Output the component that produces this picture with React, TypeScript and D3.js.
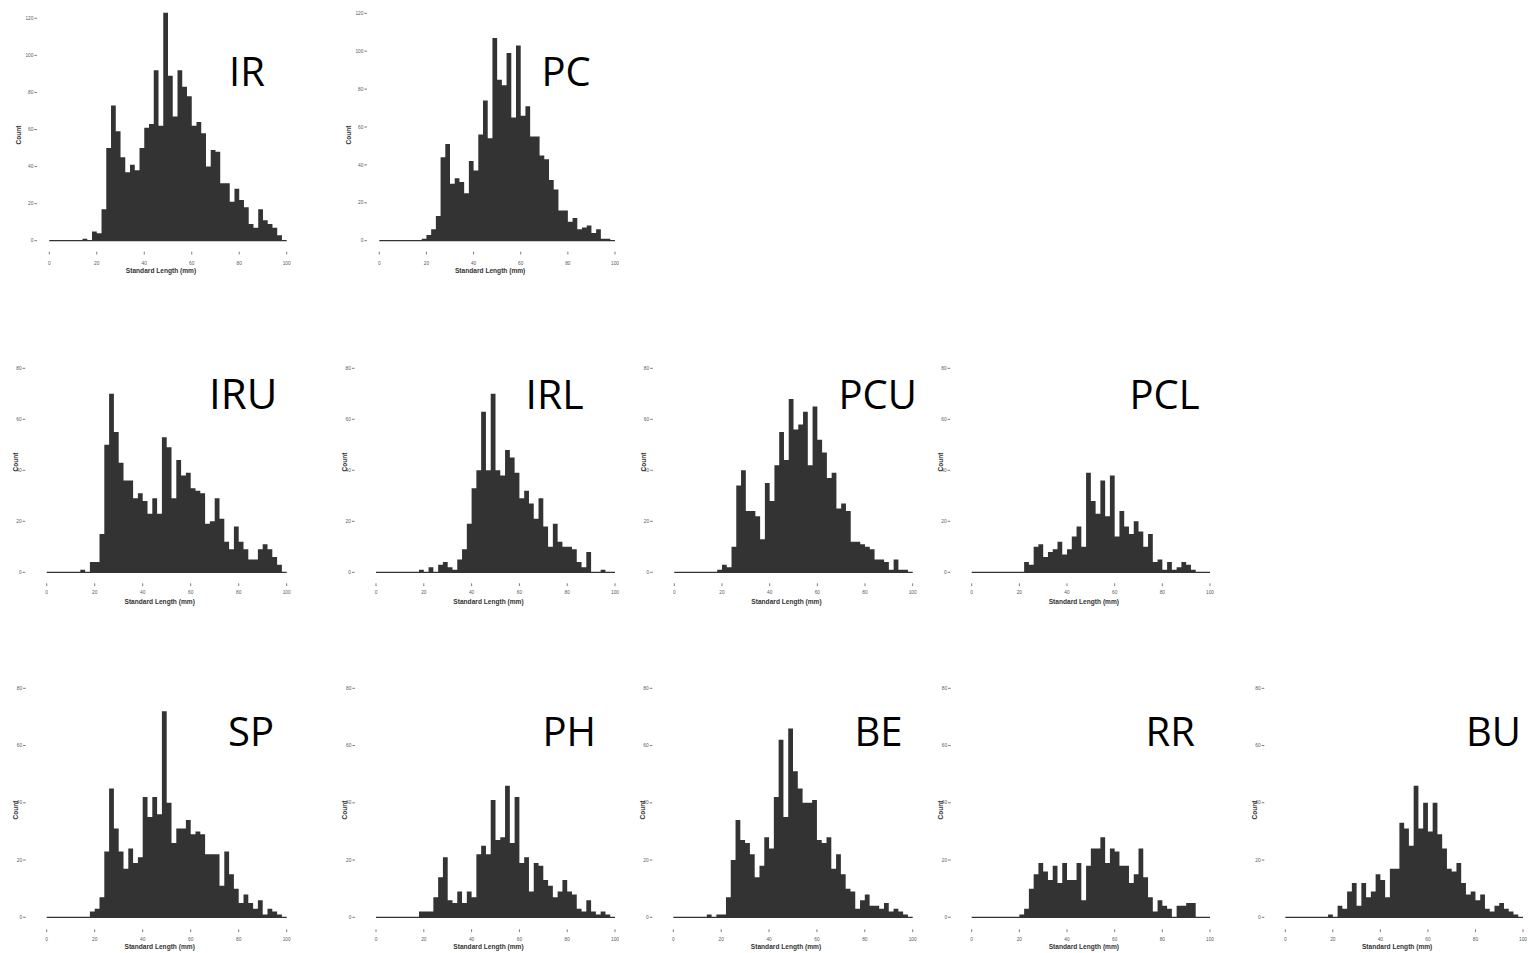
import React from 'react';
import * as d3 from 'd3';

// ---------- data ----------
const BIN_WIDTH = 2; // mm, 50 bins covering 0–100 mm
const X_TICKS = [0, 20, 40, 60, 80, 100];
const Y_TICKS_ROW1 = [0, 20, 40, 60, 80, 100, 120];
const Y_TICKS_LOWER = [0, 20, 40, 60, 80];
const X_TITLE = 'Standard Length (mm)';
const Y_TITLE = 'Count';

const IR = [0,0,0,0,0,0,0,1,0,5, 4,17,50,73,59,45,37,41,38,50, 61,63,92,62,123,89,67,92,83,78, 62,64,58,40,49,48,31,31,21,28, 22,18,9,7,17,11,9,7,3,0];
const PC = [0,0,0,0,0,0,0,0,0,1, 3,6,13,44,51,30,33,31,25,42, 37,56,74,54,107,85,82,99,65,103, 66,71,55,55,45,43,32,27,16,16, 10,12,6,7,8,4,6,1,1,0];
const IRU = [0,0,0,0,0,0,0,1,0,4, 4,15,50,70,55,43,36,36,29,31, 28,23,29,23,53,49,29,44,38,39, 33,32,31,19,20,29,21,12,9,18, 12,9,5,5,9,11,9,6,3,0];
const IRL = [0,0,0,0,0,0,0,0,0,1, 0,2,0,3,4,2,1,5,9,19, 33,40,63,40,70,40,38,48,45,39, 29,32,27,21,29,18,10,19,12,10, 10,9,4,2,8,0,0,1,0,0];
const PCU = [0,0,0,0,0,0,0,0,0,1, 3,2,10,34,40,24,24,22,13,35, 28,42,55,44,68,56,58,63,42,65, 52,47,37,39,25,27,24,12,12,11, 10,9,5,5,4,1,5,1,1,0];
const PCL = [0,0,0,0,0,0,0,0,0,0, 0,4,3,10,11,6,8,9,12,7, 9,14,18,10,39,28,23,36,22,38, 14,24,18,15,20,16,10,15,4,5, 1,4,1,2,4,3,1,0,0,0];
const SP = [0,0,0,0,0,0,0,0,0,2, 3,7,23,45,31,23,17,24,19,21, 42,35,42,36,72,40,26,31,31,34, 29,30,29,22,22,22,11,23,15,10, 5,8,5,3,6,1,3,2,1,0];
const PH = [0,0,0,0,0,0,0,0,0,2, 2,2,7,14,21,6,5,9,5,9, 7,22,25,22,41,27,28,46,26,42, 19,21,9,19,18,13,11,7,9,13, 9,8,3,2,6,2,1,2,1,0];
const BE = [0,0,0,0,0,0,0,1,0,1, 1,7,20,34,27,26,22,14,18,28, 24,42,62,35,66,51,45,40,40,41, 27,26,28,17,22,15,10,9,3,6, 8,4,4,3,5,2,3,2,1,0];
const RR = [0,0,0,0,0,0,0,0,0,0, 1,3,10,15,19,16,13,18,12,19, 13,13,19,6,18,24,24,28,19,24, 23,18,18,12,15,24,14,7,2,6, 4,3,0,4,4,5,5,0,0,0];
const BU = [0,0,0,0,0,0,0,0,0,1, 0,4,3,9,12,4,12,7,9,15, 13,7,17,17,33,31,25,46,31,40, 30,40,29,24,17,16,19,12,8,9, 6,8,3,2,4,5,3,2,1,0];

// ---------- layout ----------
const ROWS = {
  r1: { y0: 240.7, dashOff: 12.3, xTickY: 251.7, xLabelY: 263.5, xTitleY: 270.5, countY: 135, yTicks: Y_TICKS_ROW1 },
  r2: { y0: 572.3, yTop: 368.3, dashOff: 21.5, xTickY: 583.3, xLabelY: 592.5, xTitleY: 602, countY: 462, yTicks: Y_TICKS_LOWER },
  r3: { y0: 917.3, yTop: 688.3, dashOff: 21, xTickY: 929.3, xLabelY: 939, xTitleY: 947, countY: 810, yTicks: Y_TICKS_LOWER },
};

const PANELS = [
  { name: 'IR', counts: IR, row: ROWS.r1, yTop: 18.3, x0: 49.3, x100: 286.7, lx: 229, ly: 86, fs: 40 },
  { name: 'PC', counts: PC, row: ROWS.r1, yTop: 13.3, x0: 379.3, x100: 615, lx: 541.5, ly: 86, fs: 40 },
  { name: 'IRU', counts: IRU, row: ROWS.r2, yTop: ROWS.r2.yTop, x0: 46.7, x100: 286.7, lx: 209, ly: 409.3, fs: 42 },
  { name: 'IRL', counts: IRL, row: ROWS.r2, yTop: ROWS.r2.yTop, x0: 376, x100: 615, lx: 525.5, ly: 409.3, fs: 41 },
  { name: 'PCU', counts: PCU, row: ROWS.r2, yTop: ROWS.r2.yTop, x0: 674.3, x100: 912.7, lx: 838.5, ly: 409.3, fs: 40 },
  { name: 'PCL', counts: PCL, row: ROWS.r2, yTop: ROWS.r2.yTop, x0: 971.7, x100: 1210, lx: 1129.5, ly: 409.3, fs: 40 },
  { name: 'SP', counts: SP, row: ROWS.r3, yTop: ROWS.r3.yTop, x0: 46.7, x100: 286.7, lx: 228, ly: 745.7, fs: 40 },
  { name: 'PH', counts: PH, row: ROWS.r3, yTop: ROWS.r3.yTop, x0: 376, x100: 615, lx: 542.5, ly: 745.7, fs: 40 },
  { name: 'BE', counts: BE, row: ROWS.r3, yTop: ROWS.r3.yTop, x0: 673.3, x100: 912.7, lx: 854.5, ly: 745.7, fs: 40 },
  { name: 'RR', counts: RR, row: ROWS.r3, yTop: ROWS.r3.yTop, x0: 971.7, x100: 1210, lx: 1145.5, ly: 745.7, fs: 40 },
  { name: 'BU', counts: BU, row: ROWS.r3, yTop: ROWS.r3.yTop, x0: 1285.3, x100: 1523, lx: 1466, ly: 745.7, fs: 40 },
];

const BAR = '#333333';
const TICK_COL = '#5a5a5a';
const TITLE_COL = '#333333';

function Histogram({ p }: { p: any }) {
  const row = p.row;
  const yTicks: number[] = row.yTicks;
  const x = d3.scaleLinear().domain([0, 100]).range([p.x0, p.x100]);
  const y = d3.scaleLinear().domain([0, d3.max(yTicks) as number]).range([row.y0, p.yTop]);
  // step points: each bin starts at i*BIN_WIDTH; closing point at the last edge
  const pts = p.counts.map((c: number, i: number) => ({ edge: i * BIN_WIDTH, c }));
  pts.push({ edge: p.counts.length * BIN_WIDTH, c: 0 });
  const area = d3.area<any>()
    .x((d) => x(d.edge))
    .y0(y(0))
    .y1((d) => y(d.c))
    .curve(d3.curveStepAfter);
  const dashEnd = p.x0 - row.dashOff;
  const mid = (p.x0 + p.x100) / 2;
  return (
    <g>
      <path d={area(pts) || ''} fill={BAR} />
      <line x1={x(0)} x2={x(100)} y1={y(0)} y2={y(0)} stroke={BAR} strokeWidth={1.3} />
      {yTicks.map((t) => (
        <g key={'y' + t}>
          <line x1={dashEnd - 2.6} x2={dashEnd} y1={y(t)} y2={y(t)} stroke={TICK_COL} strokeWidth={0.8} />
          <text x={dashEnd - 3.6} y={y(t)} dy="0.35em" textAnchor="end" fontSize={4.8}
            fontFamily="'Liberation Sans', Arial, sans-serif" fill={TICK_COL}>{t}</text>
        </g>
      ))}
      {X_TICKS.map((t) => (
        <g key={'x' + t}>
          <line x1={x(t)} x2={x(t)} y1={row.xTickY} y2={row.xTickY + 2.8} stroke={TICK_COL} strokeWidth={0.8} />
          <text x={x(t)} y={row.xLabelY} dy="0.35em" textAnchor="middle" fontSize={4.8}
            fontFamily="'Liberation Sans', Arial, sans-serif" fill={TICK_COL}>{t}</text>
        </g>
      ))}
      <text x={mid - 7} y={row.xTitleY} dy="0.35em" textAnchor="middle" fontSize={6.6} fontWeight="bold"
        fontFamily="'Liberation Sans', Arial, sans-serif" fill={TITLE_COL}>{X_TITLE}</text>
      <text transform={`translate(${p.x0 - 31},${row.countY}) rotate(-90)`} dy="0.35em" textAnchor="middle"
        fontSize={6.6} fontWeight="bold" fontFamily="'Liberation Sans', Arial, sans-serif" fill={TITLE_COL}>{Y_TITLE}</text>
      <text x={p.lx} y={p.ly} fontSize={p.fs} fontFamily="'Open Sans', sans-serif" fill="#000">{p.name}</text>
    </g>
  );
}

export default function App() {
  return (
    <svg width={1528} height={953} viewBox="0 0 1528 953"
      style={{ position: 'absolute', left: 0, top: 0, background: '#fff' }}>
      <rect x={0} y={0} width={1528} height={953} fill="#fff" />
      {PANELS.map((p) => <Histogram key={p.name} p={p} />)}
    </svg>
  );
}
